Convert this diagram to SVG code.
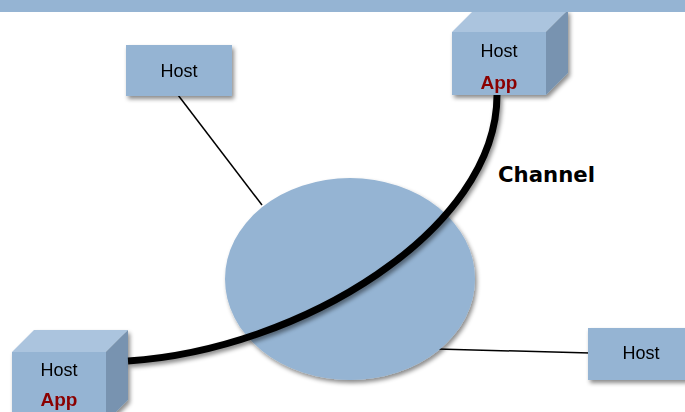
<svg xmlns="http://www.w3.org/2000/svg" width="685" height="412" viewBox="0 0 685 412">
<defs>
<filter id="sh" x="-20%" y="-20%" width="150%" height="150%">
<feDropShadow dx="2" dy="3" stdDeviation="2" flood-color="#000" flood-opacity="0.45"/>
</filter>
<style>
.face{fill:#95b4d3;}
.top{fill:#abc4de;}
.side{fill:#7893b0;}
.host{font-family:"Liberation Sans",Arial,sans-serif;font-size:18px;fill:#000;text-anchor:middle;}
.app{font-family:"Liberation Sans",Arial,sans-serif;font-size:19px;font-weight:bold;fill:#8b0000;text-anchor:middle;}
.thin{stroke:#000;stroke-width:1.5;fill:none;}
</style>
</defs>
<rect x="0" y="0" width="685" height="12" fill="#95b4d3"/>
<g id="connectors-thin">
<line class="thin" x1="178" y1="95" x2="262" y2="205"/>
<line class="thin" x1="437" y1="349" x2="590" y2="353"/>
</g>
<g id="network">
<ellipse cx="350" cy="279" rx="125" ry="101" class="face" filter="url(#sh)"/>
</g>
<g id="host-topleft" filter="url(#sh)">
<rect x="126" y="45" width="106" height="51" class="face"/>
<text class="host" x="179" y="77">Host</text>
</g>
<g id="host-right" filter="url(#sh)">
<rect x="588" y="328" width="106" height="52" class="face"/>
<text class="host" x="641" y="359">Host</text>
</g>
<g id="host-app-topright" filter="url(#sh)">
<polygon class="top" points="452,32 474,10 568,10 546,32"/>
<polygon class="side" points="546,32 568,10 568,73 546,95"/>
<rect x="452" y="32" width="94" height="63" class="face"/>
<text class="host" x="499" y="57">Host</text>
<text class="app" x="499" y="89">App</text>
</g>
<g id="host-app-bottomleft" filter="url(#sh)">
<polygon class="top" points="12,352 34,330 128,330 106,352"/>
<polygon class="side" points="106,352 128,330 128,400 106,422"/>
<rect x="12" y="352" width="94" height="70" class="face"/>
<text class="host" x="59" y="376">Host</text>
<text class="app" x="59" y="406">App</text>
</g>
<rect x="0" y="0" width="685" height="12" fill="#95b4d3"/>
<g id="connectors">
<path d="M128,361 C300,350 497,230 497,95" stroke="#000" stroke-width="7" fill="none" filter="url(#sh)"/>
</g>
<text x="498" y="182" font-family="'DejaVu Sans',sans-serif" font-weight="bold" font-size="21" textLength="97" lengthAdjust="spacingAndGlyphs" fill="#000">Channel</text>
</svg>
